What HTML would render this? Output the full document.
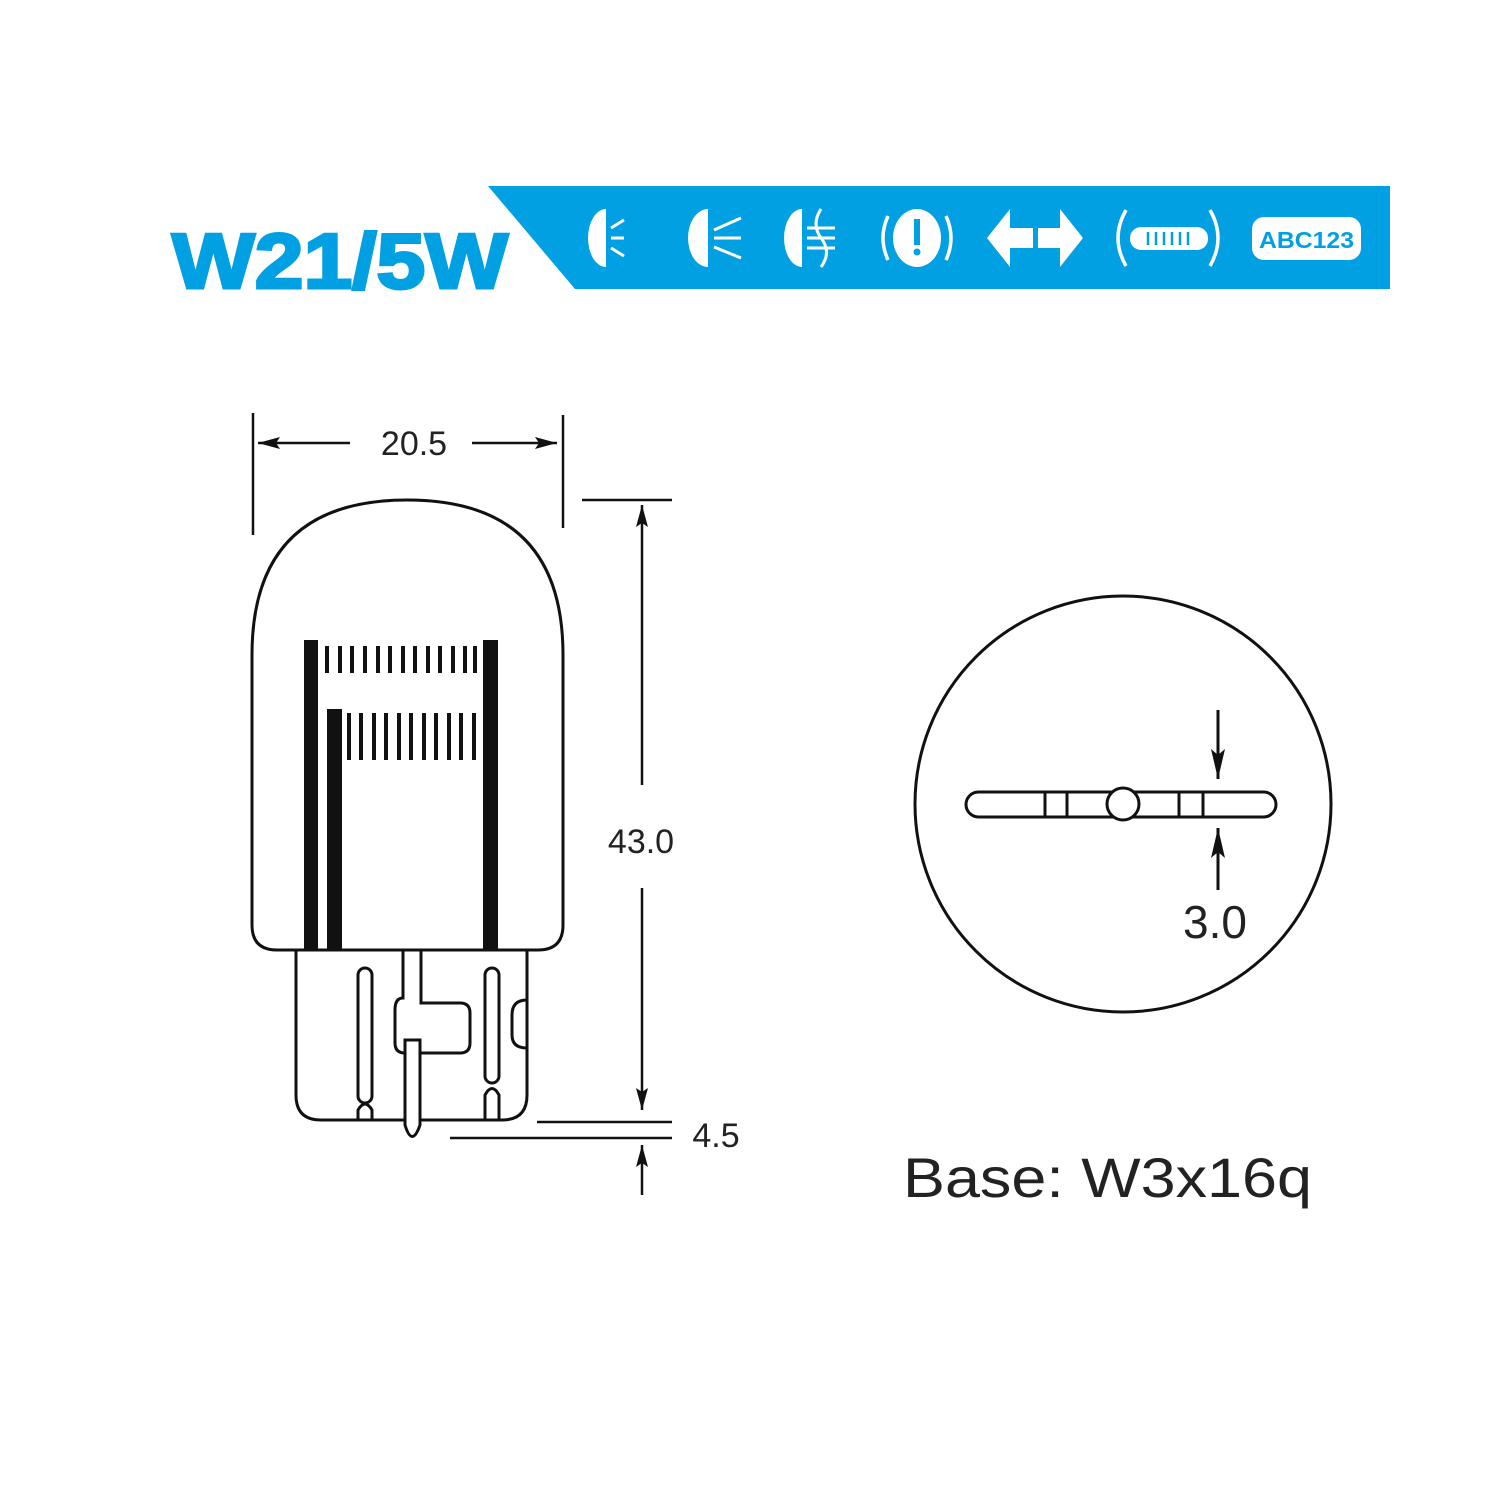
<!DOCTYPE html>
<html><head><style>
body{margin:0;background:#fff}
svg{display:block}
</style></head><body>
<svg width="1500" height="1500" viewBox="0 0 1500 1500" xmlns="http://www.w3.org/2000/svg">
<defs>
<marker id="ah" viewBox="0 0 30 14" refX="30" refY="7" markerWidth="30" markerHeight="14" markerUnits="userSpaceOnUse" orient="auto"><path d="M0,0 L30,7 L0,14 L6,7 Z" fill="#111"/></marker>
<marker id="ah2" viewBox="0 0 22 12" refX="22" refY="6" markerWidth="22" markerHeight="12" markerUnits="userSpaceOnUse" orient="auto"><path d="M0,0 L22,6 L0,12 L4,6 Z" fill="#111"/></marker>
</defs>
<rect width="1500" height="1500" fill="#fff"/>
<polygon points="488,186 1390,186 1390,289 575,289" fill="#00a0e3"/>
<text x="172" y="288" textLength="336" lengthAdjust="spacingAndGlyphs" font-family="Liberation Sans, sans-serif" font-weight="900" font-size="78" fill="#00a0e3" stroke="#00a0e3" stroke-width="3">W21/5W</text>
<g fill="#fff" stroke="#fff">
 <path d="M606,209 A18,29 0 0 0 606,267 Z" stroke="none"/>
 <g stroke-width="3" fill="none"><path d="M611,228 L624,220 M611,238 L624,238 M611,248 L624,256"/></g>
 <path d="M708,209 A20,29 0 0 0 708,267 Z" stroke="none"/>
 <g stroke-width="3" fill="none"><path d="M714,230 L741,218 M714,238 L741,238 M714,247 L741,258"/></g>
 <path d="M802,209 A18,29 0 0 0 802,267 Z" stroke="none"/>
 <g stroke-width="3" fill="none"><path d="M807,228 L835,228 M807,238 L835,238 M807,248 L835,248 M821,209 Q811,224 821,238 Q832,252 821,267"/></g>
 <ellipse cx="917" cy="238" rx="24" ry="29" stroke="none"/>
 <g stroke-width="3.5" fill="none"><path d="M888,216 Q878,238 888,260 M946,216 Q956,238 946,260"/></g>
 <rect x="914" y="219" width="6" height="26" fill="#00a0e3" stroke="none"/>
 <circle cx="917" cy="252" r="3.5" fill="#00a0e3" stroke="none"/>
 <polygon points="987,238 1010,209 1010,228 1033,228 1033,248 1010,248 1010,267" stroke="none"/>
 <polygon points="1083,238 1060,209 1060,228 1038,228 1038,248 1060,248 1060,267" stroke="none"/>
 <g stroke-width="3.5" fill="none"><path d="M1126,210 Q1110,238 1126,266 M1210,210 Q1226,238 1210,266"/></g>
 <rect x="1130" y="227" width="78" height="23" rx="11" stroke="none"/>
 <g stroke="#00a0e3" stroke-width="2.5"><path d="M1148,232V245 M1156,232V245 M1164,232V245 M1172,232V245 M1180,232V245 M1188,232V245"/></g>
 <rect x="1252" y="217" width="109" height="43" rx="12" stroke="none"/>
</g>
<text x="1259" y="248" textLength="95" lengthAdjust="spacingAndGlyphs" font-family="Liberation Sans, sans-serif" font-weight="bold" font-size="23" fill="#00a0e3">ABC123</text>

<g fill="none" stroke="#111" stroke-width="3">
 <path d="M252,925 L252,655 Q252,500 407,500 Q563,500 563,655 L563,925 Q563,950 538,950 L277,950 Q252,950 252,925 Z"/>
 <path d="M296,950 L296,1095 Q296,1120 321,1120 L502,1120 Q527,1120 527,1095 L527,950"/>
 <rect x="358" y="968" width="14" height="135" rx="7"/>
 <path d="M358,1120 L358,1110 Q365,1098 372,1110 L372,1120"/>
 <rect x="485" y="968" width="14" height="115" rx="7"/>
 <path d="M485,1120 L485,1095 Q492,1082 499,1095 L499,1120"/>
 <path d="M403,950 L403,998 Q395,998 395,1010 L395,1043 Q395,1053 405,1053 L460,1053 Q470,1053 470,1043 L470,1013 Q470,1003 460,1003 L421,1003 L421,950"/>
 <path d="M405,1040 L405,1125 Q412,1148 420,1125 L420,1040 Z" fill="#fff"/>
 <path d="M527,1000 Q512,1000 512,1015 L512,1035 Q512,1048 527,1048"/>
</g>
<g fill="#111">
 <rect x="304" y="640" width="14" height="310"/>
 <rect x="327" y="709" width="15" height="241"/>
 <rect x="483" y="640" width="15" height="310"/>
</g>
<g stroke="#111" stroke-width="4">
 <path d="M327,646V673 M340,646V673 M352,646V673 M365,646V673 M378,646V673 M390,646V673 M403,646V673 M415,646V673 M428,646V673 M440,646V673 M453,646V673 M475,646V673 M465,646V673"/>
 <path d="M349,713V760 M361,713V760 M374,713V760 M386,713V760 M399,713V760 M411,713V760 M424,713V760 M436,713V760 M449,713V760 M461,713V760 M474,713V760"/>
</g>

<g stroke="#111" stroke-width="2.5" fill="none">
 <path d="M253,413V535 M563,415V528"/>
 <path d="M350,443H258" marker-end="url(#ah2)"/>
 <path d="M472,443H557" marker-end="url(#ah2)"/>
 <path d="M582,500H672"/>
 <path d="M642,785V505" marker-end="url(#ah2)"/>
 <path d="M642,888V1110" marker-end="url(#ah2)"/>
 <path d="M537,1122H672 M450,1138H672"/>
 <path d="M642,1195V1145" marker-end="url(#ah2)"/>
</g>
<g font-family="Liberation Sans, sans-serif" fill="#222">
 <text x="414" y="455" text-anchor="middle" font-size="34">20.5</text>
 <text x="641" y="853" text-anchor="middle" font-size="34">43.0</text>
 <text x="716" y="1147" text-anchor="middle" font-size="34">4.5</text>
 <text x="1215" y="938" text-anchor="middle" font-size="46">3.0</text>
 <text x="903" y="1197" textLength="409" lengthAdjust="spacingAndGlyphs" font-size="56">Base: W3x16q</text>
</g>

<circle cx="1123" cy="804" r="208" fill="none" stroke="#111" stroke-width="3"/>
<g fill="none" stroke="#111" stroke-width="3">
 <rect x="966" y="792" width="310" height="25" rx="12.5"/>
 <path d="M1045,793V816 M1067,793V816 M1179,793V816 M1203,793V816"/>
 <circle cx="1123" cy="804" r="16" fill="#fff"/>
</g>
<g stroke="#111" stroke-width="3" fill="none">
 <path d="M1218,710V779" marker-end="url(#ah)"/>
 <path d="M1218,890V828" marker-end="url(#ah)"/>
</g>
</svg>
</body></html>
